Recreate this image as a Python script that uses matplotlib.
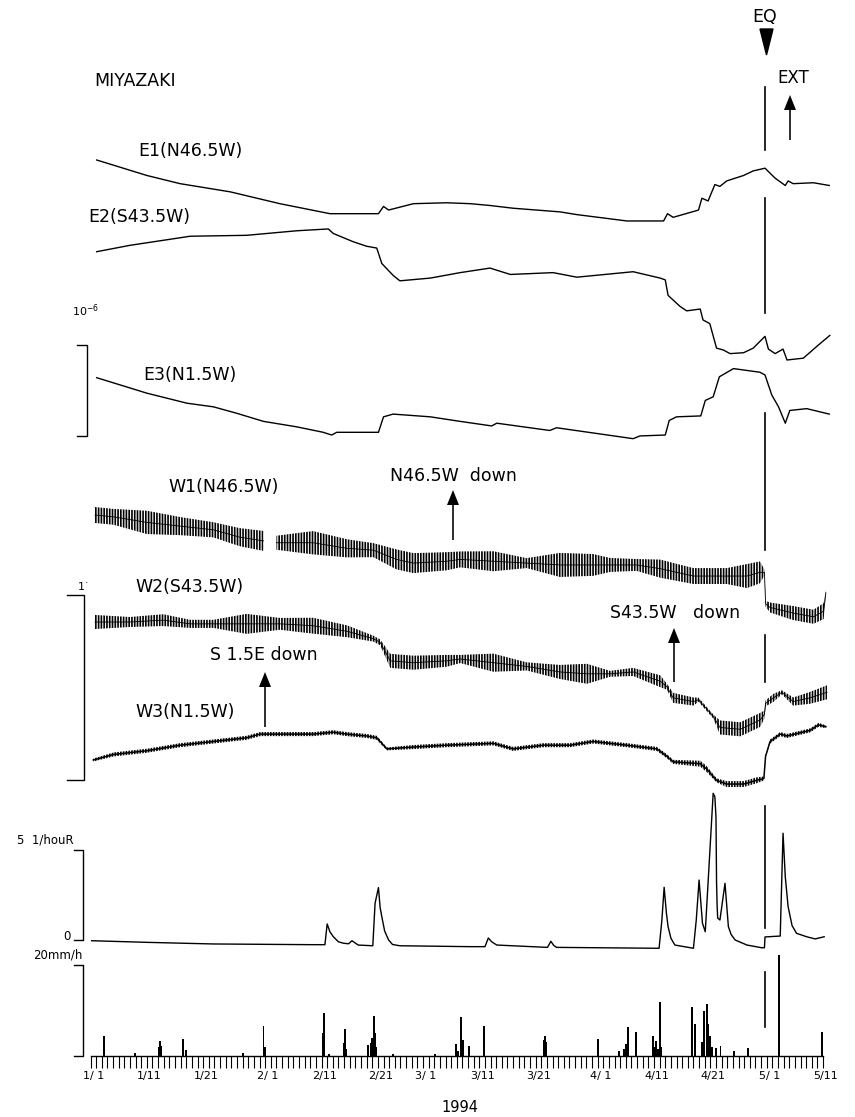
import numpy as np
import matplotlib
matplotlib.use("Agg")
import matplotlib.pyplot as plt
import matplotlib.transforms as mtrans
from matplotlib.patches import FancyArrow, Polygon

plt.rcParams['font.family'] = ['DejaVu Sans']
plt.rcParams['hatch.linewidth'] = 1.2

# ---------------- data (day 0 = 1994-01-01 00:00) ----------------
EQ_DAY = 119.7
EXT_DAY = 124.1

# Extensometers (unit: 1e-6 strain)
E1_DAY = [1.1, 10.0, 15.9, 24.8, 33.6, 42.5, 51.1, 52.0, 52.9, 57.3, 63.2, 67.4, 70.9, 75.0, 83.3, 86.3,
          95.2, 101.7, 102.4, 103.4, 107.9, 108.5, 109.6, 110.8, 111.7, 112.9, 115.9, 117.6, 119.7,
          121.5, 123.3, 123.8, 124.7, 128.3, 131.1]
E1_VAL = [0, -0.17, -0.26, -0.35, -0.48, -0.59, -0.59, -0.51, -0.55, -0.48, -0.47, -0.48, -0.50, -0.53,
          -0.57, -0.60, -0.67, -0.67, -0.59, -0.63, -0.55, -0.42, -0.45, -0.27, -0.29, -0.23, -0.17,
          -0.12, -0.09, -0.20, -0.28, -0.23, -0.26, -0.25, -0.28]

E2_DAY = [1.1, 7.0, 17.7, 27.7, 36.6, 42.2, 43.1, 46.6, 49.0, 50.8, 51.7, 53.7, 54.9, 60.3, 65.6, 70.9,
          74.5, 82.1, 86.3, 96.3, 101.1, 102.0, 102.5, 104.6, 105.8, 108.2, 108.7, 109.9, 111.1, 112.3,
          113.5, 115.9, 117.6, 119.7, 120.3, 121.5, 122.9, 123.6, 126.5, 128.9, 131.2]
E2_VAL = [0, 0.07, 0.17, 0.18, 0.23, 0.25, 0.20, 0.11, 0.06, 0.04, -0.13, -0.26, -0.32, -0.29, -0.23,
          -0.18, -0.25, -0.23, -0.28, -0.22, -0.29, -0.31, -0.48, -0.60, -0.65, -0.63, -0.75, -0.79,
          -1.06, -1.08, -1.12, -1.11, -1.06, -0.93, -1.07, -1.12, -1.07, -1.19, -1.17, -1.04, -0.92]

E3_DAY = [1.1, 10.0, 17.1, 21.8, 25.9, 30.7, 36.6, 41.3, 42.8, 43.7, 51.1, 52.0, 53.7, 60.3, 65.6, 71.2,
          72.1, 81.5, 82.7, 96.3, 97.5, 102.0, 102.7, 104.0, 108.3, 109.1, 110.5, 111.6, 114.1, 118.8,
          119.7, 120.9, 122.1, 123.3, 124.1, 127.1, 131.1]
E3_VAL = [0, -0.17, -0.28, -0.32, -0.39, -0.48, -0.54, -0.60, -0.63, -0.60, -0.60, -0.43, -0.40, -0.43,
          -0.48, -0.53, -0.50, -0.58, -0.55, -0.67, -0.64, -0.63, -0.47, -0.43, -0.42, -0.25, -0.21,
          0.01, 0.10, 0.06, 0.03, -0.19, -0.32, -0.50, -0.36, -0.34, -0.40]

# Water-tube tiltmeters: centre of band and half tidal amplitude (unit: scale bar)
W1_DAY = [0.8, 4.1, 10.0, 15.9, 21.8, 26.5, 30.7, 31.9, 33.0, 39.5, 45.5, 50.2, 54.3, 57.3, 63.2, 65.6,
          71.5, 77.4, 83.3, 89.2, 92.2, 96.9, 101.1, 107.0, 112.9, 116.5, 118.8, 119.6, 119.8, 120.6,
          124.7, 128.3, 130.1, 130.5]
W1_VAL = [0, -0.01, -0.04, -0.06, -0.08, -0.12, -0.14, np.nan, -0.15, -0.15, -0.18, -0.19, -0.24, -0.26,
          -0.25, -0.24, -0.25, -0.26, -0.27, -0.27, -0.27, -0.27, -0.29, -0.33, -0.33, -0.33, -0.31,
          -0.31, -0.48, -0.50, -0.53, -0.55, -0.52, -0.42]
W1_AMP = [0.043, 0.043, 0.063, 0.049, 0.041, 0.049, 0.054, np.nan, 0.038, 0.063, 0.049, 0.038, 0.054,
          0.054, 0.049, 0.043, 0.054, 0.027, 0.065, 0.059, 0.038, 0.032, 0.049, 0.043, 0.043, 0.065,
          0.059, 0.016, 0.016, 0.027, 0.038, 0.038, 0.043, 0.016]

W2_DAY = [0.8, 7.0, 12.9, 17.7, 21.8, 27.7, 33.6, 39.5, 45.5, 50.2, 51.4, 53.2, 57.3, 63.2, 65.6, 71.5,
          77.4, 83.3, 88.1, 92.2, 96.3, 101.1, 102.3, 103.4, 107.0, 107.9, 110.5, 111.7, 115.3, 118.8,
          119.6, 119.8, 121.2, 122.7, 124.7, 127.7, 130.7]
W2_VAL = [0, 0.00, 0.01, -0.01, -0.01, -0.01, -0.01, -0.02, -0.05, -0.09, -0.11, -0.21, -0.22, -0.21,
          -0.20, -0.22, -0.24, -0.27, -0.28, -0.28, -0.27, -0.32, -0.35, -0.41, -0.43, -0.42, -0.51,
          -0.57, -0.58, -0.53, -0.50, -0.44, -0.41, -0.38, -0.43, -0.41, -0.38]
W2_AMP = [0.038, 0.027, 0.032, 0.022, 0.022, 0.054, 0.032, 0.043, 0.032, 0.016, 0.016, 0.038, 0.038,
          0.032, 0.022, 0.049, 0.022, 0.038, 0.054, 0.016, 0.022, 0.032, 0.016, 0.027, 0.022, 0.011,
          0.011, 0.038, 0.038, 0.038, 0.022, 0.016, 0.022, 0.011, 0.022, 0.032, 0.038]

W3_DAY = [0.5, 4.1, 10.0, 15.9, 21.8, 27.7, 30.1, 33.6, 39.5, 43.1, 45.5, 49.0, 50.8, 52.6, 57.3, 63.2,
          71.5, 75.0, 80.4, 85.1, 89.2, 95.2, 100.5, 102.3, 103.4, 108.2, 109.4, 111.1, 112.9, 115.9,
          118.2, 119.5, 119.8, 120.6, 122.4, 123.6, 127.7, 129.2, 130.5]
W3_VAL = [0, 0.03, 0.05, 0.08, 0.10, 0.12, 0.14, 0.14, 0.14, 0.15, 0.14, 0.13, 0.12, 0.06, 0.07, 0.08,
          0.09, 0.06, 0.08, 0.08, 0.10, 0.08, 0.06, 0.02, -0.01, -0.02, -0.05, -0.11, -0.13, -0.13,
          -0.11, -0.10, 0.02, 0.10, 0.14, 0.13, 0.16, 0.19, 0.18]
W3_AMP = [0.008, 0.011, 0.011, 0.011, 0.011, 0.011, 0.011, 0.011, 0.011, 0.011, 0.011, 0.011, 0.011,
          0.008, 0.011, 0.011, 0.011, 0.011, 0.011, 0.011, 0.011, 0.011, 0.011, 0.011, 0.011, 0.016,
          0.016, 0.011, 0.016, 0.016, 0.016, 0.011, 0.005, 0.011, 0.011, 0.011, 0.011, 0.011, 0.008]

# Discharge (l/hour)
Q_DAY = [0.2, 10.0, 21.7, 39.5, 41.6, 42.0, 42.5, 43.1, 44.0, 44.9, 45.8, 46.4, 47.5, 50.1, 50.5, 51.1,
         51.4, 51.7, 52.2, 52.9, 53.6, 54.9, 67.4, 70.0, 70.6, 71.2, 72.1, 81.1, 81.7, 82.2, 82.7,
         100.9, 101.4, 101.8, 102.2, 102.5, 103.0, 103.7, 107.0, 107.5, 108.0, 108.6, 109.1, 110.5,
         110.8, 111.0, 111.1, 111.2, 111.3, 111.7, 112.6, 113.2, 113.7, 114.4, 116.5, 119.1, 119.6,
         119.7, 122.4, 122.9, 123.3, 123.8, 124.5, 125.3, 127.1, 128.6, 130.2]
Q_VAL = [-0.04, -0.13, -0.22, -0.26, -0.26, 0.89, 0.45, 0.18, -0.10, -0.18, -0.21, -0.04, -0.28, -0.32,
         2.04, 2.91, 1.80, 1.29, 0.50, 0.00, -0.25, -0.32, -0.37, -0.37, 0.11, -0.10, -0.28, -0.41,
         -0.07, -0.30, -0.41, -0.46, 1.11, 2.93, 1.50, 0.74, 0.10, -0.28, -0.46, 1.11, 3.33, 0.93,
         0.46, 8.15, 7.96, 6.83, 3.22, 1.94, 1.22, 1.11, 3.15, 0.74, 0.30, 0.00, -0.28, -0.43, -0.43,
         0.17, 0.22, 5.93, 3.50, 1.85, 0.80, 0.37, 0.18, 0.06, 0.18]

# Rainfall (mm/h)
RAIN_DAY = [2.4, 7.9, 12.1, 12.3, 12.6, 16.4, 17.0, 27.1, 30.7, 30.9, 41.3, 41.5, 42.4, 44.9, 45.2, 45.4,
            49.3, 49.7, 50.0, 50.3, 50.5, 50.7, 53.6, 61.1, 64.8, 65.3, 65.7, 66.1, 67.1, 69.8, 80.4, 80.7,
            80.9, 90.1, 93.8, 94.7, 95.0, 95.2, 95.4, 96.8, 99.8, 100.1, 100.4, 100.7, 101.1, 101.3,
            106.7, 107.2, 108.5, 108.9, 109.4, 109.6, 109.9, 110.3, 111.0, 111.8, 114.2, 116.6, 122.2,
            129.8]
RAIN_MM = [4.4, 0.6, 2.0, 3.3, 2.2, 3.7, 1.3, 0.6, 6.6, 2.0, 5.0, 9.5, 0.5, 2.9, 5.9, 1.5,
           2.4, 2.8, 3.9, 8.9, 5.0, 2.0, 0.4, 0.4, 2.6, 1.0, 8.6, 3.5, 2.2, 6.6, 3.5, 4.4,
           3.0, 3.8, 1.0, 1.5, 2.6, 2.0, 6.4, 5.3, 4.4, 2.0, 3.3, 1.5, 11.9, 2.0,
           10.8, 7.0, 3.0, 9.9, 11.4, 7.0, 4.4, 2.0, 1.7, 2.3, 1.0, 1.8, 22.3,
           5.3]

TICK_DAYS = list(range(0, 131))
LABEL_DAYS = [0, 10, 20, 31, 41, 51, 59, 69, 79, 90, 100, 110, 120, 130]
LABELS = ['1/ 1', '1/11', '1/21', '2/ 1', '2/11', '2/21', '3/ 1', '3/11', '3/21',
          '4/ 1', '4/11', '4/21', '5/ 1', '5/11']

# ---------------- layout (pixels of the 855x1117 page) ----------------
W, H = 855, 1117
X0, PXD = 90.5, 5.635            # page x of day 0, pixels per day
XL = (-X0 / PXD, (W - X0) / PXD)
S_STRAIN, S_TILT, S_Q, S_RAIN = 91.0, 185.0, 18.0, 4.55   # pixels per unit
BASE = {'E1': 160, 'E2': 251.7, 'E3': 377.7, 'W1': 515, 'W2': 622, 'W3': 760,
        'Q': 940, 'R': 1056}

fig = plt.figure(figsize=(W / 100, H / 100), dpi=100)
fig.patch.set_facecolor('white')


def unit_axes(p0, s, off=True):
    ax = fig.add_axes([0, 0, 1, 1], facecolor='none')
    ax.set_xlim(*XL)
    ax.set_ylim((p0 - H) / s, p0 / s)
    if off:
        ax.axis('off')
    return ax


LW = 1.0
for name, d, v in [('E1', E1_DAY, E1_VAL), ('E2', E2_DAY, E2_VAL), ('E3', E3_DAY, E3_VAL)]:
    ax = unit_axes(BASE[name], S_STRAIN)
    ax.plot(d, v, color='k', lw=LW)
    if name == 'E1':
        ax_ref = ax

for name, d, v, a in [('W1', W1_DAY, W1_VAL, W1_AMP), ('W2', W2_DAY, W2_VAL, W2_AMP),
                      ('W3', W3_DAY, W3_VAL, W3_AMP)]:
    ax = unit_axes(BASE[name], S_TILT)
    d = np.array(d); v = np.array(v); a = np.array(a)
    ax.fill_between(d, v - a, v + a, facecolor='none', edgecolor='k', hatch='||||||', linewidth=0)
    ax.plot(d, v, color='k', lw=1.1 if name == 'W3' else 0.6)

axQ = unit_axes(BASE['Q'], S_Q)
axQ.plot(Q_DAY, Q_VAL, color='k', lw=LW)

axR = unit_axes(BASE['R'], S_RAIN, off=False)
for s in ['top', 'left', 'right']:
    axR.spines[s].set_visible(False)
axR.spines['bottom'].set_position(('data', 0))
axR.spines['bottom'].set_bounds(TICK_DAYS[0], TICK_DAYS[-1])
axR.spines['bottom'].set_linewidth(1.0)
axR.set_yticks([])
axR.bar(RAIN_DAY, RAIN_MM, width=0.35, color='k', linewidth=0)
axR.set_xticks(TICK_DAYS, minor=True)
axR.set_xticks([d + 0.5 for d in LABEL_DAYS])
axR.set_xticklabels(LABELS)
axR.tick_params(axis='x', which='major', length=0, pad=11, labelsize=8)
axR.tick_params(axis='x', which='minor', length=8.6, width=0.8, direction='out')

# ---------------- overlay (annotations in page pixels) ----------------
ov = fig.add_axes([0, 0, 1, 1], facecolor='none')
ov.set_xlim(0, W)
ov.set_ylim(H, 0)
ov.axis('off')

# EQ line (broken)
tr = mtrans.blended_transform_factory(ax_ref.transData, ov.transData)
for y0, y1 in [(87, 150), (198, 313), (413, 550), (635, 682), (806, 928), (972, 1027)]:
    ov.plot([EQ_DAY, EQ_DAY], [y0, y1], color='k', lw=1.2, transform=tr)

ov.add_patch(Polygon([(760, 29), (773, 29), (766.5, 55)], closed=True, color='k'))


def arrow(x, y_tail, y_tip):
    ov.add_patch(FancyArrow(x, y_tail, 0, y_tip - y_tail, width=1.6, head_width=12,
                            head_length=15, length_includes_head=True, color='k', lw=0))


arrow(790, 140, 95)     # EXT
arrow(453, 540, 490)    # N46.5W down
arrow(674, 682, 628)    # S43.5W down
arrow(265, 727, 672)    # S 1.5E down


def bracket(x, x_left, top, height):
    ov.plot([x_left, x, x, x_left], [top, top, top + height, top + height], color='k', lw=1.0)


bracket(87, 77, 345, S_STRAIN * 1.0)
bracket(84, 67, 595, S_TILT * 1.0)
bracket(83, 74, 850, S_Q * 5)
bracket(83, 74, 965, S_RAIN * 20)

FS = 12.5
texts = [
    ('MIYAZAKI', 94, 81, FS, 'left'),
    ('EQ', 765, 17, 12.5, 'center'),
    ('EXT', 777, 78, 12, 'left'),
    ('E1(N46.5W)', 138, 151, FS, 'left'),
    ('E2(S43.5W)', 88, 217, FS, 'left'),
    ('E3(N1.5W)', 143, 375, FS, 'left'),
    ('W1(N46.5W)', 168, 487, FS, 'left'),
    ('W2(S43.5W)', 135, 587, FS, 'left'),
    ('W3(N1.5W)', 135, 712, FS, 'left'),
    ('N46.5W  down', 390, 476, FS, 'left'),
    ('S43.5W   down', 610, 613, FS, 'left'),
    ('S 1.5E down', 210, 655, FS, 'left'),
    ('10$^{-6}$', 72, 311, 8, 'left'),
    ('1˙', 78, 587, 8, 'left'),
    ('5  1/houR', 17, 840, 8.5, 'left'),
    ('0', 63, 936, 8.5, 'left'),
    ('20mm/h', 33, 955, 8.5, 'left'),
    ('1994', 460, 1108, 10.5, 'center'),
]
for t, x, y, fs, ha in texts:
    ov.text(x, y, t, fontsize=fs, ha=ha, va='center', color='k')

fig.savefig('out.png', dpi=100, facecolor='white')
